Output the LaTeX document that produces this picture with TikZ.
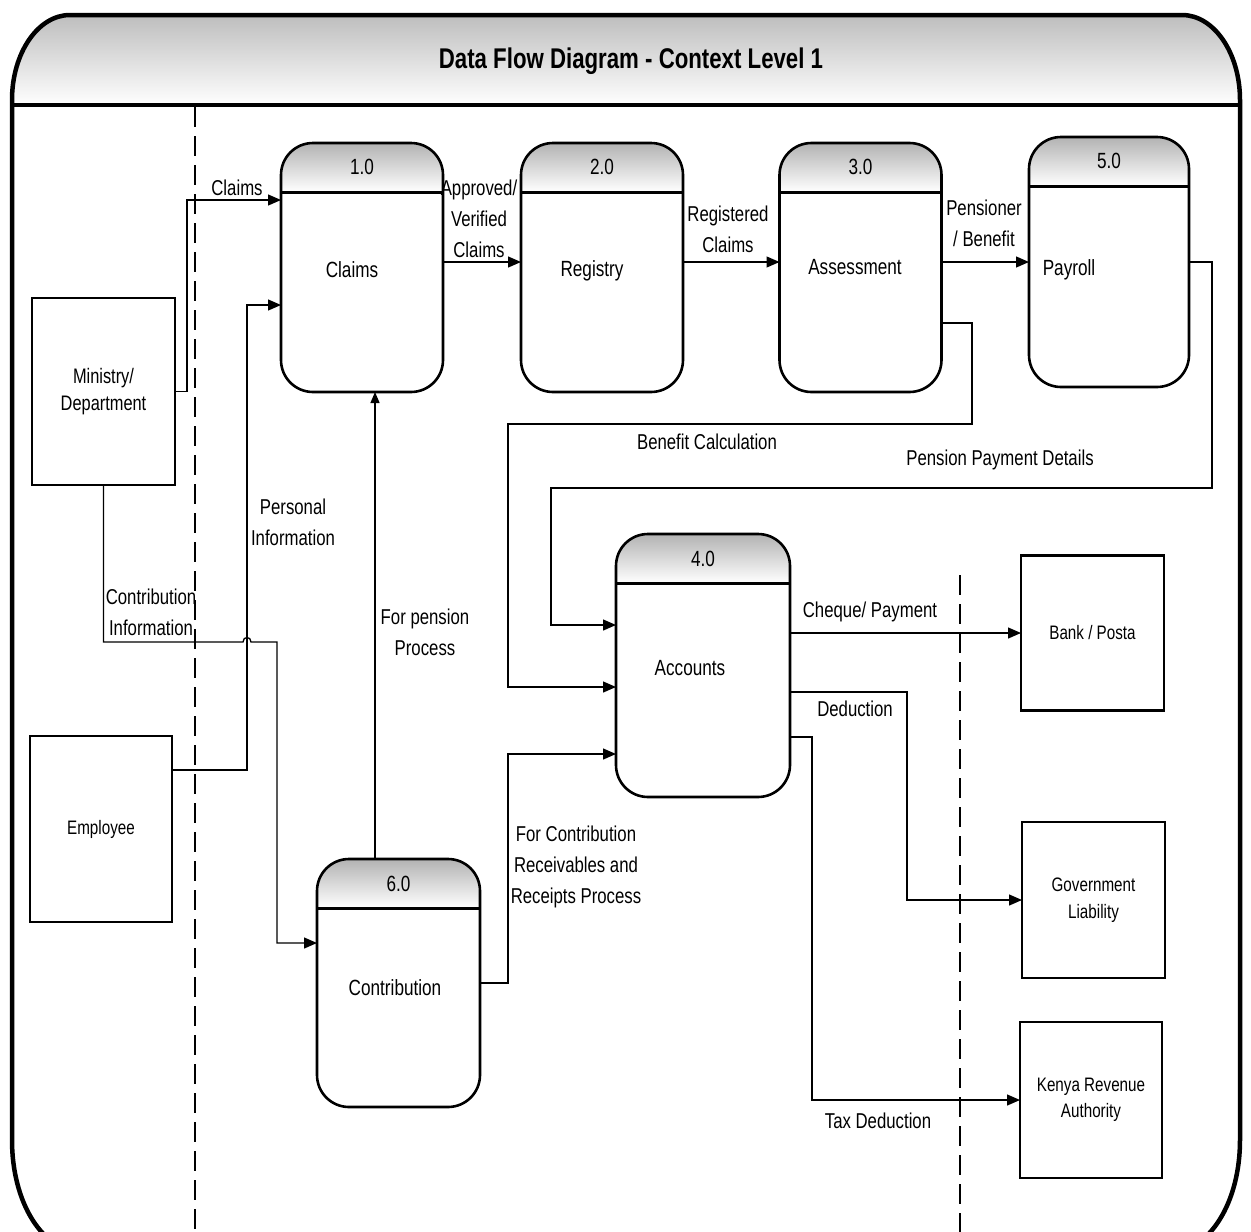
\documentclass[tikz,border=0pt]{standalone}
\usepackage{fontspec}
\setmainfont{Liberation Sans}[FakeStretch=0.78]
\usetikzlibrary{arrows.meta}
\definecolor{hdrgray}{gray}{0.70}
% shaded number band, separator and outline of a process node
\newcommand\prochead[1]{%
  \begin{scope}
    \clip[rounded corners=32pt] (#1.north west) rectangle (#1.south east);
    \shade[top color=hdrgray, bottom color=white]
      (#1.north west) rectangle ([yshift=-49pt]#1.north east);
  \end{scope}
  \draw[line width=3pt] ([yshift=-49pt]#1.north west) -- ([yshift=-49pt]#1.north east);
  \draw[line width=2.6pt, rounded corners=32pt] (#1.north west) rectangle (#1.south east);}
\begin{document}
\begin{tikzpicture}[x=1pt,y=-1pt,
  every node/.style={inner sep=0pt, outer sep=0pt},
  flow/.style={line width=1.3pt, -{Triangle[length=13pt,width=11pt]}},
  lbl/.style={align=center, font=\fontsize{21.5}{31}\selectfont},
  numlbl/.style={font=\fontsize{22}{26}\selectfont},
  plbl/.style={font=\fontsize{22}{26}\selectfont},
  ent/.style={draw, line width=2.2pt, fill=white, align=center,
    font=\fontsize{19.5}{26.5}\selectfont},
  proc/.style={fill=white, rounded corners=32pt,
    minimum width=162pt, minimum height=249pt},
  lane/.style={line width=1.2pt, dash pattern=on 20pt off 9pt},
  frame/.style={line width=4.5pt}
]
\useasboundingbox (0,0) rectangle (1251,1232);
\clip (0,0) rectangle (1251,1232);
\fill[white] (0,0) rectangle (1251,1232);

% outer frame with shaded title band
\def\framepath{(12,100) .. controls (12,53) and (38,15) .. (70,15)
  -- (1182,15) .. controls (1214,15) and (1240,53) .. (1240,100)
  -- (1240,1140) .. controls (1240,1203) and (1209,1252) .. (1170,1252)
  -- (82,1252) .. controls (43,1252) and (12,1203) .. (12,1140) -- cycle}
\begin{scope}
  \clip \framepath;
  \shade[top color=hdrgray, bottom color=white] (0,0) rectangle (1251,105);
\end{scope}
\draw[frame] (12,105) -- (1240,105);
\node[font=\fontsize{28.5}{32}\selectfont\bfseries] (title) at (631,61)
  {Data Flow Diagram - Context Level 1};

% swim-lane separators
\draw[lane] (195,107) -- (195,1232);
\draw[lane] (960,575) -- (960,1232);

% processes
\node[proc] (p1) at (362,267.5) {};
\node[proc] (p2) at (602,267.5) {};
\node[proc] (p3) at (860.5,267.5) {};
\node[proc, minimum width=160pt, minimum height=250pt] (p5) at (1109,262) {};
\node[proc, minimum width=174pt, minimum height=263pt] (p4) at (703,665.5) {};
\node[proc, minimum width=163pt, minimum height=248pt] (p6) at (398.5,983) {};
\prochead{p1}\prochead{p2}\prochead{p3}\prochead{p5}\prochead{p4}\prochead{p6}

\node[numlbl] (n1) at ([yshift=-24pt]p1.north) {1.0};
\node[numlbl] (n2) at ([yshift=-24pt]p2.north) {2.0};
\node[numlbl] (n3) at ([yshift=-24pt]p3.north) {3.0};
\node[numlbl] (n5) at ([yshift=-24pt]p5.north) {5.0};
\node[numlbl] (n4) at ([yshift=-25pt]p4.north) {4.0};
\node[numlbl] (n6) at ([yshift=-25pt]p6.north) {6.0};

\node[plbl] (t1) at (352,270) {Claims};
\node[plbl] (t2) at (592,271) {Registry};
\node[plbl] (t3) at (855,267) {Assessment};
\node[plbl] (t5) at (1069,270) {Payroll};
\node[plbl] (t4) at (690,668) {Accounts};
\node[plbl] (t6) at (395,988) {Contribution};

% external entities
\node[ent, minimum width=143pt, minimum height=187pt, font=\fontsize{21}{26.5}\selectfont]
  (min) at (103.5,391.5) {Ministry/\\Department};
\node[ent, minimum width=142pt, minimum height=186pt] (emp) at (101,829) {Employee};
\node[ent, minimum width=143pt, minimum height=155pt] (bank) at (1092.5,633) {Bank / Posta};
\node[ent, minimum width=143pt, minimum height=156pt] (gov) at (1093.5,900) {Government\\Liability};
\node[ent, minimum width=142pt, minimum height=156pt] (kra) at (1091,1100) {Kenya Revenue\\Authority};

% data flows
\draw[flow] (min.east) -| (187,200) -- (p1.west |- 0,200);
\draw[flow] (emp.east |- 0,770) -| (247,305) -- (p1.west |- 0,305);
\draw[flow] (min.south) |- (243,642) .. controls (243,636) and (251,636) .. (251,642)
  -| (277,943) -- (p6.west |- 0,943);
\draw[flow, -{Triangle[length=11pt,width=9pt]}] (p6.north -| 375,0) -- (p1.south -| 375,0);
\draw[flow] (p1.east |- 0,262) -- (p2.west |- 0,262);
\draw[flow] (p2.east |- 0,262) -- (p3.west |- 0,262);
\draw[flow] (p3.east |- 0,262) -- (p5.west |- 0,262);
\draw[flow] (p3.east |- 0,323) -| (972,424) -| (508,687) -- (p4.west |- 0,687);
\draw[flow] (p5.east |- 0,262) -| (1212,488) -| (551,625) -- (p4.west |- 0,625);
\draw[flow] (p6.east |- 0,983) -| (508,754) -- (p4.west |- 0,754);
\draw[flow] (p4.east |- bank.west) -- (bank.west);
\draw[flow] (p4.east |- 0,692) -| (907,900) -- (gov.west);
\draw[flow] (p4.east |- 0,737) -| (812,1100) -- (kra.west);

% flow labels
\node[lbl] (l1) at (237,188) {Claims};
\node[lbl] (l2) at (479,219) {Approved/\\Verified\\Claims};
\node[lbl] (l3) at (728,229) {Registered\\Claims};
\node[lbl] (l4) at (984,223.5) {Pensioner\\/ Benefit};
\node[lbl] (l5) at (707,442) {Benefit Calculation};
\node[lbl] (l6) at (1000,460) {Pension Payment Details};
\node[lbl] (l7) at (293,522.5) {Personal\\Information};
\node[lbl] (l8) at (151,612.5) {Contribution\\Information};
\node[lbl] (l9) at (425,632.5) {For pension\\Process};
\node[lbl] (l10) at (576,867) {For Contribution\\Receivables and\\Receipts Process};
\node[lbl] (l11) at (870,612) {Cheque/ Payment};
\node[lbl] (l12) at (855,709) {Deduction};
\node[lbl] (l13) at (878,1121) {Tax Deduction};

% frame outline on top
\draw[frame] \framepath;
\end{tikzpicture}
\end{document}
